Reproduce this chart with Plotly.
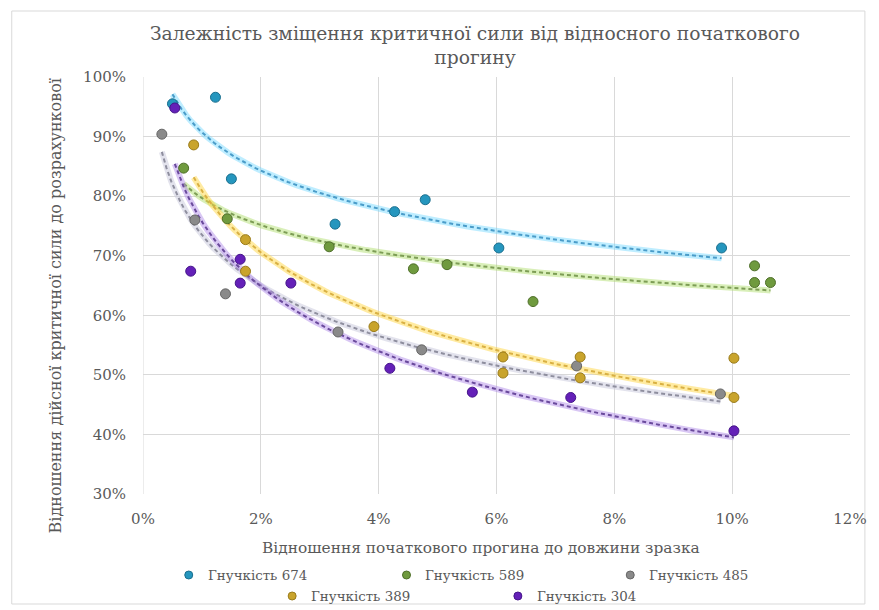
import numpy as np
import plotly.graph_objects as go

# ---- data (fractions) ----
names = ["Гнучкість 674", "Гнучкість 589", "Гнучкість 485", "Гнучкість 389", "Гнучкість 304"]

x674 = [0.0050, 0.0123, 0.0150, 0.0326, 0.0427, 0.0479, 0.0604, 0.0982]
y674 = [0.955, 0.966, 0.829, 0.753, 0.774, 0.794, 0.713, 0.713]

x589 = [0.0069, 0.0143, 0.0316, 0.0459, 0.0516, 0.0662, 0.1038, 0.1038, 0.1065]
y589 = [0.847, 0.762, 0.715, 0.678, 0.685, 0.623, 0.683, 0.655, 0.655]

x485 = [0.0032, 0.0088, 0.0140, 0.0331, 0.0473, 0.0736, 0.0980]
y485 = [0.904, 0.760, 0.636, 0.572, 0.542, 0.515, 0.468]

x389 = [0.0086, 0.0174, 0.0174, 0.0392, 0.0611, 0.0611, 0.0742, 0.0742, 0.1003, 0.1003]
y389 = [0.886, 0.727, 0.674, 0.581, 0.530, 0.503, 0.530, 0.495, 0.528, 0.462]

x304 = [0.0054, 0.0081, 0.0165, 0.0165, 0.0251, 0.0419, 0.0559, 0.0726, 0.1003]
y304 = [0.948, 0.674, 0.694, 0.654, 0.654, 0.511, 0.471, 0.462, 0.406]

xs = [x674, x589, x485, x389, x304]
ys = [y674, y589, y485, y389, y304]

marker_colors = ["#2596be", "#6f9a3e", "#8a8a8a", "#c9a42c", "#6420b8"]
marker_lines = ["#1b6f8e", "#4f6f2a", "#666666", "#9a7c1c", "#45158a"]
dash_colors = ["#4a9cc9", "#7d9d55", "#8e8e9e", "#d9b043", "#6a4a9c"]
glow_colors = ["rgba(110,215,255,0.45)", "rgba(170,220,100,0.45)", "rgba(200,200,220,0.5)",
               "rgba(255,215,70,0.5)", "rgba(170,130,230,0.45)"]

xticks = [0, 0.02, 0.04, 0.06, 0.08, 0.10, 0.12]
yticks = [0.3, 0.4, 0.5, 0.6, 0.7, 0.8, 0.9, 1.0]

FONT = "DejaVu Serif"
GREY = "#595959"

fig = go.Figure()

# logarithmic trendlines (fitted from the data)
for i in range(5):
    x = np.array(xs[i]); y = np.array(ys[i])
    b, a = np.polyfit(np.log(x), y, 1)
    xf = np.linspace(x.min(), x.max(), 120)
    yf = a + b * np.log(xf)
    fig.add_trace(go.Scatter(x=xf, y=yf, mode="lines", showlegend=False, hoverinfo="skip",
                             line=dict(color=glow_colors[i], width=6)))
    fig.add_trace(go.Scatter(x=xf, y=yf, mode="lines", showlegend=False, hoverinfo="skip",
                             line=dict(color=dash_colors[i], width=2, dash="4px,3px")))

for i in range(5):
    fig.add_trace(go.Scatter(x=xs[i], y=ys[i], mode="markers", name=names[i],
                             showlegend=False,
                             marker=dict(size=10, color=marker_colors[i],
                                         line=dict(color=marker_lines[i], width=1))))

W, H = 879, 610
ml, mr, mt, mb = 143, 25, 77, 116
pw, ph = W - ml - mr, H - mt - mb

def px_x(p):
    return (p - ml) / pw

def px_y(p):
    return (H - mb - p) / ph

# manual legend (Excel-style centred rows)
leg_pos = [(189, 575), (408, 575), (633, 575), (293, 596), (520, 596)]
shapes = [dict(type="line", xref="x", yref="y", x0=0, x1=0, y0=0.3, y1=1.0,
               line=dict(color="#d9d9d9", width=1)),
          dict(type="rect", xref="paper", yref="paper",
               x0=px_x(11), x1=px_x(869), y0=px_y(604), y1=px_y(11),
               line=dict(color="#d9d9d9", width=1), layer="below")]
annotations = []
for i, (lx, ly) in enumerate(leg_pos):
    shapes.append(dict(type="circle", xref="paper", yref="paper",
                       xsizemode="pixel", ysizemode="pixel",
                       xanchor=px_x(lx), yanchor=px_y(ly),
                       x0=-4, x1=4, y0=-4, y1=4,
                       fillcolor=marker_colors[i], line=dict(color=marker_lines[i], width=1)))
    annotations.append(dict(text=names[i], xref="paper", yref="paper",
                            x=px_x(lx + 17), y=px_y(ly), xanchor="left", yanchor="middle",
                            showarrow=False, font=dict(family=FONT, size=13.4, color=GREY)))

# axis titles
annotations.append(dict(text="Відношення початкового прогина до довжини зразка",
                        xref="paper", yref="paper", x=px_x(483), y=px_y(548),
                        xanchor="center", yanchor="middle", showarrow=False,
                        font=dict(family=FONT, size=15.4, color=GREY)))
annotations.append(dict(text="Відношення дійсної критичної сили до розрахункової",
                        xref="paper", yref="paper", x=px_x(55), y=px_y(306),
                        xanchor="center", yanchor="middle", showarrow=False, textangle=-90,
                        font=dict(family=FONT, size=16, color=GREY)))

fig.update_layout(
    width=W, height=H,
    margin=dict(l=ml, r=mr, t=mt, b=mb),
    paper_bgcolor="white", plot_bgcolor="white",
    font=dict(family=FONT, color=GREY, size=15),
    showlegend=False,
    title=dict(text="Залежність зміщення критичної сили від відносного початкового<br>прогину",
               x=475 / W, xanchor="center", y=1 - 40 / H, yanchor="top",
               font=dict(family=FONT, size=18.7, color=GREY)),
    xaxis=dict(range=[0, 0.12], tickvals=xticks, tickformat=".0%", showgrid=True,
               gridcolor="#d9d9d9", gridwidth=1, zeroline=False, showline=False,
               ticks="", ticklabelstandoff=14, tickfont=dict(family=FONT, size=15, color=GREY)),
    yaxis=dict(range=[0.3, 1.0], tickvals=yticks, tickformat=".0%", showgrid=True,
               gridcolor="#d9d9d9", gridwidth=1, zeroline=False, showline=False,
               ticks="", ticklabelstandoff=16, tickfont=dict(family=FONT, size=15, color=GREY)),
    shapes=shapes,
    annotations=annotations,
)

fig.write_html("out.html")
